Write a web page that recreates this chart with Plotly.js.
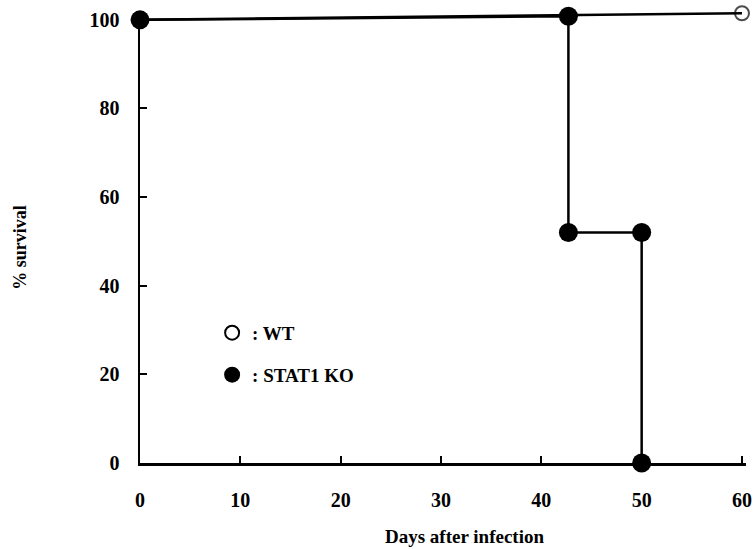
<!DOCTYPE html>
<html>
<head>
<meta charset="utf-8">
<script src="https://cdn.plot.ly/plotly-3.0.1.min.js"></script>
<style>html,body{margin:0;padding:0;background:#fff;}#chart{width:756px;height:549px;}</style>
</head>
<body>
<div id="chart"></div>
<script>
// Data
const wtDays = [0, 60];
const wtSurvival = [100, 101.5];
const koDays = [0, 42.7, 42.7, 50, 50];
const koSurvival = [100, 100.8, 52, 52, 0];
const xTicks = [0, 10, 20, 30, 40, 50, 60];
const yTicks = [0, 20, 40, 60, 80, 100];
const wtLabel = ': WT';
const koLabel = ': STAT1 KO';
const xTitle = 'Days after infection';
const yTitle = '% survival';

const serif = 'Liberation Serif, Times New Roman, serif';
const traces = [
  {x: wtDays, y: wtSurvival, mode: 'lines+markers', showlegend: false, cliponaxis: false,
   line: {color: '#000', width: 2.5},
   marker: {symbol: 'circle-open', size: [0, 14], color: '#000', line: {width: 2, color: '#000'}}},
  {x: koDays, y: koSurvival, mode: 'lines+markers', showlegend: false, cliponaxis: false,
   line: {color: '#000', width: 2.5},
   marker: {symbol: 'circle', size: 19, color: '#000'}},
  {x: [null], y: [null], mode: 'markers', name: wtLabel, legend: 'legend',
   marker: {symbol: 'circle-open', size: 14, color: '#000', line: {width: 2, color: '#000'}}},
  {x: [null], y: [null], mode: 'markers', name: koLabel, legend: 'legend2',
   marker: {symbol: 'circle', size: 19, color: '#000'}}
];
const legendBase = {xref: 'paper', yref: 'paper', xanchor: 'left', yanchor: 'middle',
  bgcolor: 'rgba(0,0,0,0)', font: {family: serif, size: 19, color: '#000', weight: 'bold'}};
const layout = {
  width: 756, height: 549,
  margin: {l: 140, r: 10, t: 11, b: 86},
  paper_bgcolor: '#fff', plot_bgcolor: '#fff',
  font: {family: serif, color: '#000'},
  xaxis: {range: [0, 60.4], tickvals: xTicks, ticktext: xTicks.map(String),
    showgrid: false, zeroline: false, showline: true, linecolor: '#000', linewidth: 2.5,
    ticks: 'inside', ticklen: 7, tickwidth: 2, tickcolor: '#000', ticklabelstandoff: 17,
    tickfont: {family: serif, size: 20, color: '#000', weight: 'bold'}},
  yaxis: {range: [0, 102], tickvals: yTicks, ticktext: yTicks.map(String),
    showgrid: false, zeroline: false, showline: true, linecolor: '#000', linewidth: 2.5,
    ticks: 'inside', ticklen: 7, tickwidth: 2, tickcolor: '#000', ticklabelstandoff: 14,
    tickfont: {family: serif, size: 20, color: '#000', weight: 'bold'}},
  legend: Object.assign({x: 0.119, y: 0.288}, legendBase),
  legend2: Object.assign({x: 0.119, y: 0.195}, legendBase),
  annotations: [
    {text: xTitle, xref: 'paper', yref: 'paper', x: 0.535, y: -0.163, xanchor: 'center', yanchor: 'middle',
     showarrow: false, font: {family: serif, size: 19, color: '#000', weight: 'bold'}},
    {text: yTitle, xref: 'paper', yref: 'paper', x: -0.198, y: 0.476, xanchor: 'center', yanchor: 'middle',
     textangle: -90, showarrow: false, font: {family: serif, size: 18, color: '#000', weight: 'bold'}}
  ]
};
Plotly.newPlot('chart', traces, layout, {displayModeBar: false, staticPlot: true});
</script>
</body>
</html>
